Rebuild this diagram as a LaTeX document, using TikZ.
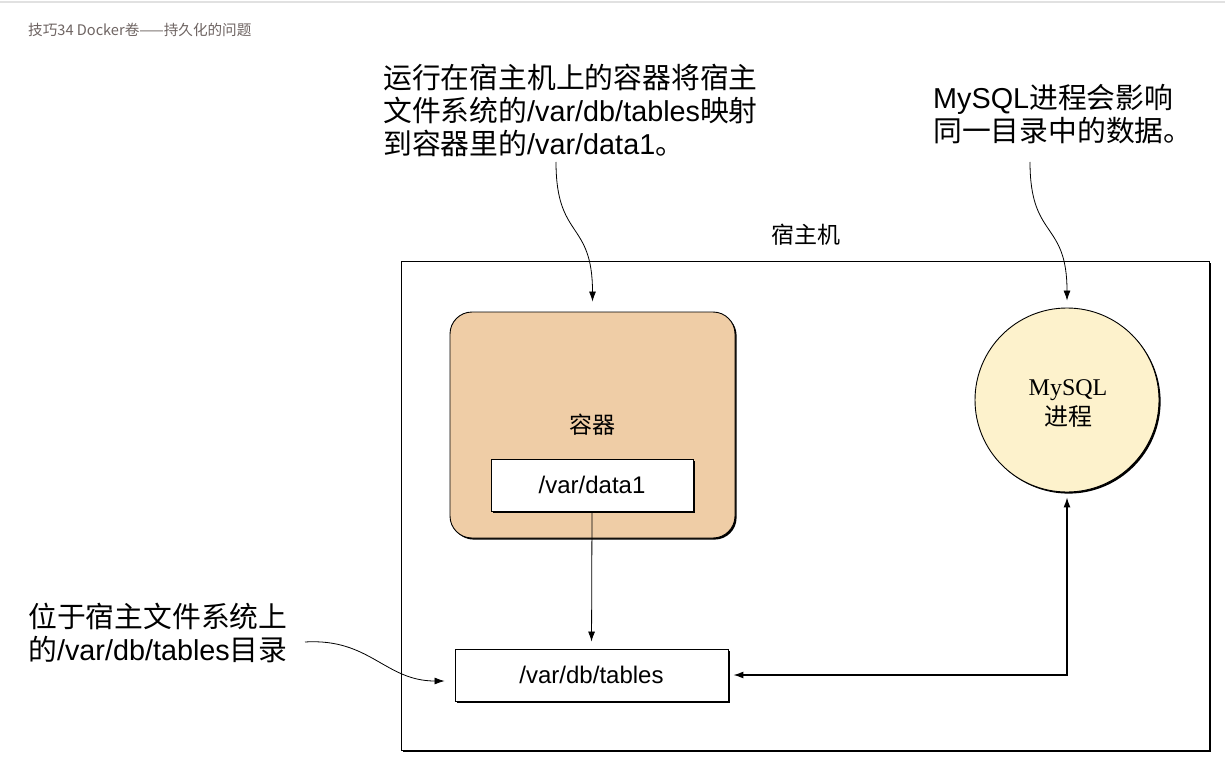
\documentclass[tikz,border=0pt]{standalone}
\usepackage{fontspec}
\setmainfont{Liberation Sans}
\newfontfamily\cjk{Noto Sans CJK SC}
\newfontfamily\rmserif{Liberation Serif}
\usetikzlibrary{arrows.meta,shadows}
\definecolor{contfill}{RGB}{239,205,166}
\definecolor{procfill}{RGB}{253,242,204}
\definecolor{hdr}{RGB}{110,100,98}
\definecolor{topline}{RGB}{225,225,225}
\newcommand\zh[1]{{\cjk #1}}
\begin{document}
\begin{tikzpicture}[x=1pt,y=-1pt,
  ann/.style={align=left, inner sep=0pt, anchor=north west, font=\fontsize{28.8}{33}\selectfont},
  shad/.style={drop shadow={shadow xshift=1.6pt, shadow yshift=-1.6pt, opacity=1, fill=black}},
  box/.style={draw, line width=0.9pt, fill=white, inner sep=0pt, shad, font=\fontsize{24}{28}\selectfont},
  tip/.style={-{Latex[length=10pt,width=7pt]}},
  conn/.style={line width=0.8pt}]
\useasboundingbox (0,0) rectangle (1225,767);
\fill[white] (0,0) rectangle (1225,767);
\draw[topline, line width=1.2pt] (0,2) -- (1225,2);
\node[anchor=west, inner sep=0pt, text=hdr, font=\cjk\fontsize{14.6}{17}\selectfont] (hdr) at (28,30) {技巧34 Docker卷——持久化的问题};

% annotations
\node[ann] (ann1) at (383,64) {\zh{运行在宿主机上的容器将宿主}\\\zh{文件系统的}/var/db/tables\zh{映射}\\\zh{到容器里的}/var/data1\zh{。}};
\node[ann] (ann2) at (933,84) {MySQL\zh{进程会影响}\\\zh{同一目录中的数据。}};
\node[ann] (ann3) at (28,603) {\zh{位于宿主文件系统上}\\\zh{的}/var/db/tables\zh{目录}};

% host
\node[draw, line width=0.9pt, fill=white, shad, minimum width=808pt, minimum height=489pt, inner sep=0pt] (host) at (805,505.5) {};
\node[font=\cjk\fontsize{23}{26}\selectfont] (hostlbl) at (806,235) {宿主机};

% container
\node[draw, line width=0.9pt, fill=contfill, rounded corners=22pt, shad, minimum width=285pt, minimum height=226pt, inner sep=0pt] (cont) at (592.5,425) {};
\node[font=\cjk\fontsize{23}{26}\selectfont] (contlbl) at (592,425) {容器};
\node[box, minimum width=202pt, minimum height=52pt] (data1) at (592,485) {/var/data1};

% tables
\node[box, minimum width=273pt, minimum height=52pt] (tables) at (591.5,675) {/var/db/tables};

% mysql
\node[circle, draw, line width=0.9pt, fill=procfill, shad, minimum size=184pt, inner sep=0pt] (mysql) at (1067,400) {};
\node[align=center, font=\fontsize{24}{30}\selectfont] (mysqllbl) at (1068,403) {{\rmserif MySQL}\\\zh{进程}};

% connectors
\coordinate (c1) at (556,162);
\coordinate (c2) at (1030,162);
\coordinate (c3) at (305,642);
\draw[conn, tip, shorten >=10pt] (c1) .. controls (556,240) and (592.5,220) .. (cont.north);
\draw[conn, tip, shorten >=7pt] (c2) .. controls (1030,240) and (1067,220) .. (mysql.north);
\draw[conn, tip, shorten >=10pt] (c3) .. controls (370,638) and (385,681) .. (tables.west |- 0,681);
\draw[conn, tip, shorten >=7pt] (data1.south) -- (tables.north);
\draw[line width=1.2pt, {Latex[length=10pt,width=7pt]}-{Latex[length=10pt,width=7pt]}, shorten <=5pt, shorten >=5pt] (tables.east) -| (mysql.south);
\end{tikzpicture}
\end{document}
